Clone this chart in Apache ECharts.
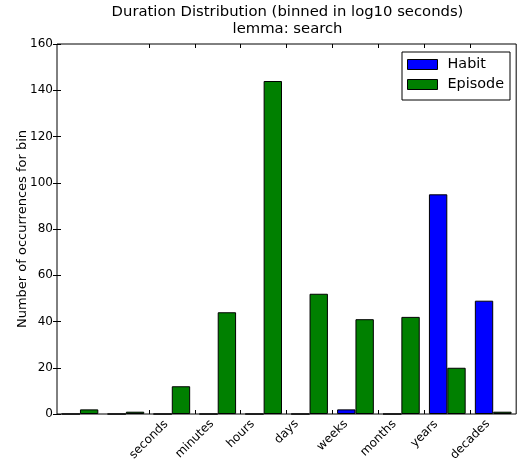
<!DOCTYPE html>
<html>
<head>
<meta charset="utf-8">
<script src="https://cdn.jsdelivr.net/npm/echarts@6/dist/echarts.min.js"></script>
<style>
html,body{margin:0;padding:0;background:#fff;}
#chart{width:517px;height:466px;}
</style>
</head>
<body>
<div id="chart"></div>
<script>
// ---- data ----
const bins = ['0','1','2','3','4','5','6','7','8','9'];
const habit = [0, 0, 0, 0, 0, 0, 2, 0, 95, 49];
const episode = [2, 1, 12, 44, 144, 52, 41, 42, 20, 1];
const tickPositions = [2, 3, 4, 5, 6, 7, 8, 9];
const tickLabels = ['seconds', 'minutes', 'hours', 'days', 'weeks', 'months', 'years', 'decades'];
const yTicks = [0, 20, 40, 60, 80, 100, 120, 140, 160];

const FONT = 'DejaVu Sans';
const canvas = document.createElement('canvas');
const ctx = canvas.getContext('2d');
ctx.font = '12px "DejaVu Sans"';
const H = 14;
const rich = {};
tickLabels.forEach((t, i) => {
  const w = ctx.measureText(t).width;
  const P = Math.round((w + H) / 2);
  rich['l' + i] = {fontSize: 12, fontFamily: FONT, color: '#000', lineHeight: H, padding: [P, P, 0, 0]};
});
const labelValues = [0].concat(tickPositions, [10]);

const chart = echarts.init(document.getElementById('chart'), null, {renderer: 'canvas'});
const GL = 57, GT = 44, GW = 461, GH = 370;
chart.setOption({
  animation: false,
  backgroundColor: '#fff',
  textStyle: {fontFamily: FONT},
  title: {
    text: 'Duration Distribution (binned in log10 seconds)\nlemma: search',
    left: GL + GW / 2, top: 4, textAlign: 'center', padding: 0,
    textStyle: {fontFamily: FONT, fontSize: 14.8, fontWeight: 'normal', color: '#000', lineHeight: 17}
  },
  legend: {
    data: ['Habit', 'Episode'],
    orient: 'vertical', left: 402, top: 52,
    padding: [4, 6, 7, 5], itemGap: 3,
    itemWidth: 30, itemHeight: 10, icon: 'rect',
    borderColor: '#000', borderWidth: 1, backgroundColor: '#fff',
    itemStyle: {borderColor: '#000', borderWidth: 1},
    textStyle: {fontFamily: FONT, fontSize: 14.4, color: '#000', lineHeight: 17, padding: [0, 0, 0, 5]}
  },
  grid: {left: GL, top: GT, width: GW, height: GH, show: true, borderColor: '#000', borderWidth: 1, backgroundColor: 'transparent'},
  xAxis: [
    {type: 'category', data: bins, boundaryGap: true,
     axisLine: {show: false}, axisTick: {show: false}, axisLabel: {show: false}, splitLine: {show: false}},
    {type: 'value', min: 0, max: 10, position: 'bottom',
     axisLine: {show: false}, splitLine: {show: false},
     axisTick: {show: true, inside: true, length: 4, lineStyle: {color: '#000'}, customValues: tickPositions},
     axisLabel: {show: true, rotate: 45, margin: 3, align: 'center', verticalAlign: 'middle',
       showMinLabel: false, showMaxLabel: false, hideOverlap: false,
       customValues: labelValues, rich: rich,
       formatter: function (v) { const i = tickPositions.indexOf(Math.round(v)); return i < 0 ? '' : '{l' + i + '|' + tickLabels[i] + '}'; }}},
    {type: 'value', min: 0, max: 10, position: 'top',
     axisLine: {show: false}, splitLine: {show: false}, axisLabel: {show: false},
     axisTick: {show: true, inside: true, length: 4, lineStyle: {color: '#000'}, customValues: tickPositions}}
  ],
  yAxis: [
    {type: 'value', min: 0, max: 160, interval: 20, position: 'left',
     name: 'Number of occurrences for bin', nameLocation: 'middle', nameGap: 28, nameRotate: 90,
     nameMoveOverlap: false,
     nameTextStyle: {fontFamily: FONT, fontSize: 13, color: '#000'},
     axisLine: {show: false}, splitLine: {show: false},
     axisTick: {show: true, inside: true, length: 4, lineStyle: {color: '#000'}, customValues: yTicks},
     axisLabel: {fontFamily: FONT, fontSize: 12, color: '#000', margin: 4, customValues: yTicks}},
    {type: 'value', min: 0, max: 160, interval: 20, position: 'right',
     axisLine: {show: false}, splitLine: {show: false}, axisLabel: {show: false},
     axisTick: {show: true, inside: true, length: 4, lineStyle: {color: '#000'}}}
  ],
  series: [
    {name: 'Habit', type: 'bar', xAxisIndex: 0, yAxisIndex: 0, data: habit,
     barWidth: '40%', barGap: '0%',
     itemStyle: {color: '#0000ff', borderColor: '#000', borderWidth: 1}},
    {name: 'Episode', type: 'bar', xAxisIndex: 0, yAxisIndex: 0, data: episode,
     barWidth: '40%', barGap: '0%',
     itemStyle: {color: '#008000', borderColor: '#000', borderWidth: 1}}
  ]
});
</script>
</body>
</html>
